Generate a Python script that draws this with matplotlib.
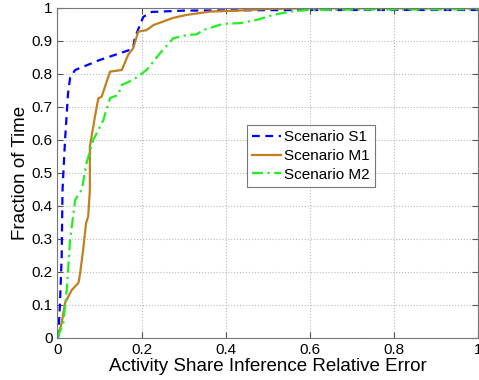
import matplotlib
matplotlib.use("Agg")
import matplotlib.pyplot as plt

plt.rcParams['font.family'] = ['Liberation Sans', 'DejaVu Sans']

# curves (relative error, fraction of time)
s1_x = [0, 0.002, 0.006, 0.010, 0.012, 0.014, 0.018, 0.025, 0.030, 0.042, 0.10, 0.172,
        0.18, 0.184, 0.204, 0.224, 0.30, 0.45, 0.60, 1.0]
s1_y = [0, 0.004, 0.106, 0.246, 0.448, 0.50, 0.60, 0.74, 0.788, 0.812, 0.842, 0.873,
        0.88, 0.91, 0.973, 0.988, 0.992, 0.993, 0.994, 0.994]

m1_x = [0, 0.010, 0.018, 0.034, 0.050, 0.054, 0.061, 0.068, 0.073, 0.077, 0.077, 0.089,
        0.097, 0.105, 0.125, 0.153, 0.168, 0.18, 0.192, 0.212, 0.228, 0.275, 0.307,
        0.363, 0.43, 0.50, 0.60, 1.0]
m1_y = [0, 0.045, 0.106, 0.145, 0.167, 0.197, 0.267, 0.348, 0.368, 0.448, 0.58, 0.67,
        0.726, 0.731, 0.807, 0.812, 0.858, 0.878, 0.928, 0.933, 0.948, 0.97, 0.979,
        0.989, 0.992, 0.997, 0.999, 0.999]

m2_x = [0, 0.014, 0.022, 0.030, 0.042, 0.058, 0.069, 0.085, 0.109, 0.125, 0.144, 0.153,
        0.18, 0.212, 0.244, 0.275, 0.307, 0.331, 0.346, 0.394, 0.434, 0.474, 0.513,
        0.553, 0.593, 0.70, 1.0]
m2_y = [0, 0.045, 0.145, 0.297, 0.418, 0.45, 0.53, 0.60, 0.66, 0.727, 0.736, 0.767,
        0.782, 0.812, 0.863, 0.908, 0.918, 0.92, 0.933, 0.952, 0.954, 0.964, 0.979,
        0.989, 0.994, 0.995, 0.996]

x_ticks = [0, 0.2, 0.4, 0.6, 0.8, 1.0]
x_labels = ['0', '0.2', '0.4', '0.6', '0.8', '1']
y_ticks = [i / 10 for i in range(11)]
y_labels = ['0'] + ['%.1f' % v for v in y_ticks[1:-1]] + ['1']

fig = plt.figure(figsize=(4.79, 3.8), dpi=100)
ax = fig.add_axes([0.120, 0.111, 0.878, 0.868])

ax.plot(s1_x, s1_y, color='#0000ff', linestyle=(0, (3.5, 2.5)), linewidth=1.6, label='Scenario S1')
ax.plot(m1_x, m1_y, color='#c08020', linestyle='-', linewidth=1.6, label='Scenario M1')
ax.plot(m2_x, m2_y, color='#22ee22', linestyle=(0, (5, 2, 1, 2)), linewidth=1.6, label='Scenario M2')

ax.set_xlim(0, 1)
ax.set_ylim(0, 1)
ax.set_xticks(x_ticks)
ax.set_xticklabels(x_labels)
ax.set_yticks(y_ticks)
ax.set_yticklabels(y_labels)
ax.tick_params(direction='in', top=True, right=True, labelsize=11, length=4, color='#555555')
ax.grid(True, linestyle=':', color='#bbbbbb', linewidth=0.8)
for sp in ax.spines.values():
    sp.set_color('#777777')

ax.set_xlabel('Activity Share Inference Relative Error', fontsize=13.5, labelpad=1)
ax.set_ylabel('Fraction of Time', fontsize=13.5, labelpad=2)

leg = ax.legend(loc='upper left', bbox_to_anchor=(0.45, 0.645), fancybox=False,
                edgecolor='#555555', fontsize=11, handlelength=1.9,
                borderaxespad=0, labelspacing=0.3, borderpad=0.35, handletextpad=0.2)
leg.get_frame().set_linewidth(0.8)

fig.savefig('out.png', dpi=100)
